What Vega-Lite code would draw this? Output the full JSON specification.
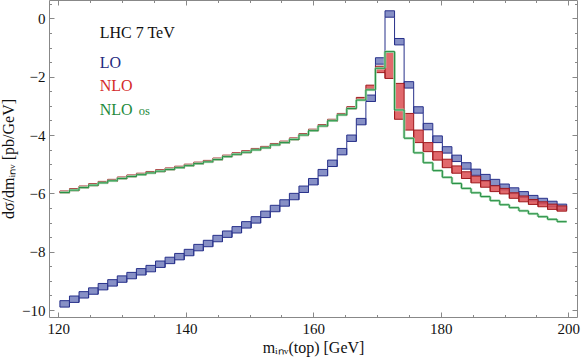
{
"$schema": "https://vega.github.io/schema/vega-lite/v6.json",
"width": 528, "height": 317,
"autosize": "none",
"padding": {"left": 49, "top": 0, "right": 4, "bottom": 42},
"background": "white",
"config": {
 "view": {"stroke": "#888888", "strokeWidth": 1},
 "font": "Liberation Serif",
 "axis": {"domain": false, "grid": false, "tickColor": "#888888", "labelFont": "Liberation Serif", "labelFontSize": 15, "labelColor": "#111111", "titleFont": "Liberation Serif", "titleFontSize": 16, "titleFontWeight": "normal", "titleColor": "#111111", "labelFlush": false}
},
"datasets": {
 "lo": [
  {"m0":120.25,"m1":121.75,"lo":-9.90,"hi":-9.68},
  {"m0":121.75,"m1":123.25,"lo":-9.74,"hi":-9.52},
  {"m0":123.25,"m1":124.75,"lo":-9.59,"hi":-9.37},
  {"m0":124.75,"m1":126.25,"lo":-9.46,"hi":-9.24},
  {"m0":126.25,"m1":127.75,"lo":-9.31,"hi":-9.09},
  {"m0":127.75,"m1":129.25,"lo":-9.18,"hi":-8.96},
  {"m0":129.25,"m1":130.75,"lo":-9.05,"hi":-8.83},
  {"m0":130.75,"m1":132.25,"lo":-8.93,"hi":-8.71},
  {"m0":132.25,"m1":133.75,"lo":-8.80,"hi":-8.58},
  {"m0":133.75,"m1":135.25,"lo":-8.69,"hi":-8.47},
  {"m0":135.25,"m1":136.75,"lo":-8.54,"hi":-8.32},
  {"m0":136.75,"m1":138.25,"lo":-8.41,"hi":-8.19},
  {"m0":138.25,"m1":139.75,"lo":-8.28,"hi":-8.06},
  {"m0":139.75,"m1":141.25,"lo":-8.14,"hi":-7.92},
  {"m0":141.25,"m1":142.75,"lo":-7.97,"hi":-7.75},
  {"m0":142.75,"m1":144.25,"lo":-7.83,"hi":-7.61},
  {"m0":144.25,"m1":145.75,"lo":-7.66,"hi":-7.44},
  {"m0":145.75,"m1":147.25,"lo":-7.51,"hi":-7.29},
  {"m0":147.25,"m1":148.75,"lo":-7.36,"hi":-7.14},
  {"m0":148.75,"m1":150.25,"lo":-7.19,"hi":-6.97},
  {"m0":150.25,"m1":151.75,"lo":-7.02,"hi":-6.80},
  {"m0":151.75,"m1":153.25,"lo":-6.83,"hi":-6.61},
  {"m0":153.25,"m1":154.75,"lo":-6.63,"hi":-6.41},
  {"m0":154.75,"m1":156.25,"lo":-6.44,"hi":-6.22},
  {"m0":156.25,"m1":157.75,"lo":-6.22,"hi":-6.00},
  {"m0":157.75,"m1":159.25,"lo":-5.97,"hi":-5.75},
  {"m0":159.25,"m1":160.75,"lo":-5.71,"hi":-5.49},
  {"m0":160.75,"m1":162.25,"lo":-5.40,"hi":-5.18},
  {"m0":162.25,"m1":163.75,"lo":-5.08,"hi":-4.86},
  {"m0":163.75,"m1":165.25,"lo":-4.68,"hi":-4.46},
  {"m0":165.25,"m1":166.75,"lo":-4.22,"hi":-4.00},
  {"m0":166.75,"m1":168.25,"lo":-3.65,"hi":-3.43},
  {"m0":168.25,"m1":169.75,"lo":-2.85,"hi":-2.63},
  {"m0":169.75,"m1":171.25,"lo":-1.57,"hi":-1.35},
  {"m0":171.25,"m1":172.75,"lo":0.04,"hi":0.26},
  {"m0":172.75,"m1":174.25,"lo":-0.91,"hi":-0.69},
  {"m0":174.25,"m1":175.75,"lo":-2.39,"hi":-2.17},
  {"m0":175.75,"m1":177.25,"lo":-3.25,"hi":-3.03},
  {"m0":177.25,"m1":178.75,"lo":-3.82,"hi":-3.60},
  {"m0":178.75,"m1":180.25,"lo":-4.26,"hi":-4.03},
  {"m0":180.25,"m1":181.75,"lo":-4.62,"hi":-4.40},
  {"m0":181.75,"m1":183.25,"lo":-4.91,"hi":-4.69},
  {"m0":183.25,"m1":184.75,"lo":-5.17,"hi":-4.95},
  {"m0":184.75,"m1":186.25,"lo":-5.38,"hi":-5.17},
  {"m0":186.25,"m1":187.75,"lo":-5.56,"hi":-5.35},
  {"m0":187.75,"m1":189.25,"lo":-5.73,"hi":-5.52},
  {"m0":189.25,"m1":190.75,"lo":-5.88,"hi":-5.68},
  {"m0":190.75,"m1":192.25,"lo":-6.01,"hi":-5.81},
  {"m0":192.25,"m1":193.75,"lo":-6.14,"hi":-5.94},
  {"m0":193.75,"m1":195.25,"lo":-6.26,"hi":-6.07},
  {"m0":195.25,"m1":196.75,"lo":-6.36,"hi":-6.17},
  {"m0":196.75,"m1":198.25,"lo":-6.46,"hi":-6.27},
  {"m0":198.25,"m1":199.75,"lo":-6.56,"hi":-6.37}
 ],
 "nlo": [
  {"m0":120.25,"m1":121.75,"lo":-5.99,"hi":-5.92},
  {"m0":121.75,"m1":123.25,"lo":-5.91,"hi":-5.84},
  {"m0":123.25,"m1":124.75,"lo":-5.82,"hi":-5.75},
  {"m0":124.75,"m1":126.25,"lo":-5.74,"hi":-5.67},
  {"m0":126.25,"m1":127.75,"lo":-5.66,"hi":-5.59},
  {"m0":127.75,"m1":129.25,"lo":-5.59,"hi":-5.52},
  {"m0":129.25,"m1":130.75,"lo":-5.51,"hi":-5.44},
  {"m0":130.75,"m1":132.25,"lo":-5.44,"hi":-5.37},
  {"m0":132.25,"m1":133.75,"lo":-5.38,"hi":-5.31},
  {"m0":133.75,"m1":135.25,"lo":-5.32,"hi":-5.25},
  {"m0":135.25,"m1":136.75,"lo":-5.26,"hi":-5.19},
  {"m0":136.75,"m1":138.25,"lo":-5.20,"hi":-5.13},
  {"m0":138.25,"m1":139.75,"lo":-5.14,"hi":-5.07},
  {"m0":139.75,"m1":141.25,"lo":-5.07,"hi":-5.00},
  {"m0":141.25,"m1":142.75,"lo":-5.00,"hi":-4.93},
  {"m0":142.75,"m1":144.25,"lo":-4.94,"hi":-4.87},
  {"m0":144.25,"m1":145.75,"lo":-4.86,"hi":-4.79},
  {"m0":145.75,"m1":147.25,"lo":-4.76,"hi":-4.69},
  {"m0":147.25,"m1":148.75,"lo":-4.68,"hi":-4.61},
  {"m0":148.75,"m1":150.25,"lo":-4.61,"hi":-4.54},
  {"m0":150.25,"m1":151.75,"lo":-4.53,"hi":-4.46},
  {"m0":151.75,"m1":153.25,"lo":-4.46,"hi":-4.39},
  {"m0":153.25,"m1":154.75,"lo":-4.36,"hi":-4.29},
  {"m0":154.75,"m1":156.25,"lo":-4.28,"hi":-4.21},
  {"m0":156.25,"m1":157.75,"lo":-4.17,"hi":-4.10},
  {"m0":157.75,"m1":159.25,"lo":-4.02,"hi":-3.95},
  {"m0":159.25,"m1":160.75,"lo":-3.87,"hi":-3.80},
  {"m0":160.75,"m1":162.25,"lo":-3.71,"hi":-3.64},
  {"m0":162.25,"m1":163.75,"lo":-3.53,"hi":-3.46},
  {"m0":163.75,"m1":165.25,"lo":-3.33,"hi":-3.26},
  {"m0":165.25,"m1":166.75,"lo":-3.11,"hi":-3.03},
  {"m0":166.75,"m1":168.25,"lo":-2.79,"hi":-2.71},
  {"m0":168.25,"m1":169.75,"lo":-2.42,"hi":-2.29},
  {"m0":169.75,"m1":171.25,"lo":-1.86,"hi":-1.64},
  {"m0":171.25,"m1":172.75,"lo":-2.06,"hi":-1.14},
  {"m0":172.75,"m1":174.25,"lo":-3.46,"hi":-2.23},
  {"m0":174.25,"m1":175.75,"lo":-3.83,"hi":-3.26},
  {"m0":175.75,"m1":177.25,"lo":-4.26,"hi":-3.83},
  {"m0":177.25,"m1":178.75,"lo":-4.57,"hi":-4.26},
  {"m0":178.75,"m1":180.25,"lo":-4.86,"hi":-4.57},
  {"m0":180.25,"m1":181.75,"lo":-5.12,"hi":-4.83},
  {"m0":181.75,"m1":183.25,"lo":-5.31,"hi":-5.06},
  {"m0":183.25,"m1":184.75,"lo":-5.49,"hi":-5.26},
  {"m0":184.75,"m1":186.25,"lo":-5.64,"hi":-5.41},
  {"m0":186.25,"m1":187.75,"lo":-5.79,"hi":-5.57},
  {"m0":187.75,"m1":189.25,"lo":-5.94,"hi":-5.74},
  {"m0":189.25,"m1":190.75,"lo":-6.02,"hi":-5.83},
  {"m0":190.75,"m1":192.25,"lo":-6.17,"hi":-5.98},
  {"m0":192.25,"m1":193.75,"lo":-6.29,"hi":-6.09},
  {"m0":193.75,"m1":195.25,"lo":-6.38,"hi":-6.21},
  {"m0":195.25,"m1":196.75,"lo":-6.46,"hi":-6.29},
  {"m0":196.75,"m1":198.25,"lo":-6.55,"hi":-6.37},
  {"m0":198.25,"m1":199.75,"lo":-6.61,"hi":-6.43}
 ],
 "os": [
  {"m0":120.25,"m1":121.75,"lo":-5.97},
  {"m0":121.75,"m1":123.25,"lo":-5.89},
  {"m0":123.25,"m1":124.75,"lo":-5.80},
  {"m0":124.75,"m1":126.25,"lo":-5.72},
  {"m0":126.25,"m1":127.75,"lo":-5.64},
  {"m0":127.75,"m1":129.25,"lo":-5.57},
  {"m0":129.25,"m1":130.75,"lo":-5.49},
  {"m0":130.75,"m1":132.25,"lo":-5.42},
  {"m0":132.25,"m1":133.75,"lo":-5.36},
  {"m0":133.75,"m1":135.25,"lo":-5.30},
  {"m0":135.25,"m1":136.75,"lo":-5.24},
  {"m0":136.75,"m1":138.25,"lo":-5.18},
  {"m0":138.25,"m1":139.75,"lo":-5.12},
  {"m0":139.75,"m1":141.25,"lo":-5.05},
  {"m0":141.25,"m1":142.75,"lo":-4.98},
  {"m0":142.75,"m1":144.25,"lo":-4.92},
  {"m0":144.25,"m1":145.75,"lo":-4.84},
  {"m0":145.75,"m1":147.25,"lo":-4.74},
  {"m0":147.25,"m1":148.75,"lo":-4.66},
  {"m0":148.75,"m1":150.25,"lo":-4.59},
  {"m0":150.25,"m1":151.75,"lo":-4.51},
  {"m0":151.75,"m1":153.25,"lo":-4.44},
  {"m0":153.25,"m1":154.75,"lo":-4.34},
  {"m0":154.75,"m1":156.25,"lo":-4.26},
  {"m0":156.25,"m1":157.75,"lo":-4.15},
  {"m0":157.75,"m1":159.25,"lo":-4.00},
  {"m0":159.25,"m1":160.75,"lo":-3.85},
  {"m0":160.75,"m1":162.25,"lo":-3.69},
  {"m0":162.25,"m1":163.75,"lo":-3.51},
  {"m0":163.75,"m1":165.25,"lo":-3.31},
  {"m0":165.25,"m1":166.75,"lo":-3.09},
  {"m0":166.75,"m1":168.25,"lo":-2.80},
  {"m0":168.25,"m1":169.75,"lo":-2.45},
  {"m0":169.75,"m1":171.25,"lo":-1.71},
  {"m0":171.25,"m1":172.75,"lo":-1.14},
  {"m0":172.75,"m1":174.25,"lo":-3.14},
  {"m0":174.25,"m1":175.75,"lo":-4.11},
  {"m0":175.75,"m1":177.25,"lo":-4.61},
  {"m0":177.25,"m1":178.75,"lo":-4.95},
  {"m0":178.75,"m1":180.25,"lo":-5.22},
  {"m0":180.25,"m1":181.75,"lo":-5.45},
  {"m0":181.75,"m1":183.25,"lo":-5.66},
  {"m0":183.25,"m1":184.75,"lo":-5.83},
  {"m0":184.75,"m1":186.25,"lo":-5.98},
  {"m0":186.25,"m1":187.75,"lo":-6.11},
  {"m0":187.75,"m1":189.25,"lo":-6.25},
  {"m0":189.25,"m1":190.75,"lo":-6.39},
  {"m0":190.75,"m1":192.25,"lo":-6.49},
  {"m0":192.25,"m1":193.75,"lo":-6.60},
  {"m0":193.75,"m1":195.25,"lo":-6.70},
  {"m0":195.25,"m1":196.75,"lo":-6.80},
  {"m0":196.75,"m1":198.25,"lo":-6.89},
  {"m0":198.25,"m1":199.75,"lo":-6.97}
 ]
},
"resolve": {"axis": {"x": "independent", "y": "independent"}},
"layer": [
 {
  "data": {"name": "lo"},
  "mark": {"type": "rect", "fill": "#727cbc", "fillOpacity": 0.85, "stroke": "#27308a", "strokeWidth": 1},
  "encoding": {
   "x": {"field": "m0", "type": "quantitative", "scale": {"domain": [118.54, 201.37], "nice": false, "zero": false},
         "axis": {"orient": "bottom", "values": [120, 140, 160, 180, 200], "tickSize": -5, "labelPadding": 9, "title": "mᵢₙᵥ(top) [GeV]", "titlePadding": 3}},
   "x2": {"field": "m1"},
   "y": {"field": "lo", "type": "quantitative", "scale": {"domain": [-10.24, 0.63], "nice": false, "zero": false},
         "axis": {"orient": "left", "values": [-10, -8, -6, -4, -2, 0], "tickSize": -5, "labelPadding": 9, "title": "dσ/dmᵢₙᵥ  [pb/GeV]", "titlePadding": 5}},
   "y2": {"field": "hi"}
  }
 },
 {
  "data": {"name": "lo"},
  "transform": [
   {"window": [{"op": "lead", "field": "lo", "as": "nlo"}], "sort": [{"field": "m0", "order": "ascending"}]},
   {"filter": "isValid(datum.nlo)"}
  ],
  "mark": {"type": "rule", "stroke": "#27308a", "strokeWidth": 1},
  "encoding": {
   "x": {"field": "m1", "type": "quantitative", "scale": {"domain": [118.54, 201.37], "nice": false, "zero": false},
         "axis": {"orient": "bottom", "values": [120,125,130,135,140,145,150,155,160,165,170,175,180,185,190,195,200], "tickSize": -2.5, "labels": false, "title": null}},
   "y": {"field": "lo", "type": "quantitative", "scale": {"domain": [-10.24, 0.63], "nice": false, "zero": false},
         "axis": {"orient": "left", "values": [-10,-9.5,-9,-8.5,-8,-7.5,-7,-6.5,-6,-5.5,-5,-4.5,-4,-3.5,-3,-2.5,-2,-1.5,-1,-0.5,0,0.5], "tickSize": -2.5, "labels": false, "title": null}},
   "y2": {"field": "nlo"}
  }
 },
 {
  "data": {"name": "nlo"},
  "mark": {"type": "rect", "fill": "#dc4f52", "fillOpacity": 0.85, "stroke": "#9e1a1e", "strokeWidth": 1},
  "encoding": {
   "x": {"field": "m0", "type": "quantitative", "scale": {"domain": [118.54, 201.37], "nice": false, "zero": false},
         "axis": {"orient": "top", "values": [120, 140, 160, 180, 200], "tickSize": -5, "labels": false, "title": null}},
   "x2": {"field": "m1"},
   "y": {"field": "lo", "type": "quantitative", "scale": {"domain": [-10.24, 0.63], "nice": false, "zero": false},
         "axis": {"orient": "right", "values": [-10, -8, -6, -4, -2, 0], "tickSize": -5, "labels": false, "title": null}},
   "y2": {"field": "hi"}
  }
 },
 {
  "data": {"name": "nlo"},
  "transform": [
   {"window": [{"op": "lead", "field": "lo", "as": "nlo"}], "sort": [{"field": "m0", "order": "ascending"}]},
   {"filter": "isValid(datum.nlo)"}
  ],
  "mark": {"type": "rule", "stroke": "#9e1a1e", "strokeWidth": 1},
  "encoding": {
   "x": {"field": "m1", "type": "quantitative", "scale": {"domain": [118.54, 201.37], "nice": false, "zero": false},
         "axis": {"orient": "top", "values": [120,125,130,135,140,145,150,155,160,165,170,175,180,185,190,195,200], "tickSize": -2.5, "labels": false, "title": null}},
   "y": {"field": "lo", "type": "quantitative", "scale": {"domain": [-10.24, 0.63], "nice": false, "zero": false},
         "axis": {"orient": "right", "values": [-10,-9.5,-9,-8.5,-8,-7.5,-7,-6.5,-6,-5.5,-5,-4.5,-4,-3.5,-3,-2.5,-2,-1.5,-1,-0.5,0,0.5], "tickSize": -2.5, "labels": false, "title": null}},
   "y2": {"field": "nlo"}
  }
 },
 {
  "data": {"name": "os"},
  "mark": {"type": "rule", "stroke": "#a9dbb3", "strokeWidth": 2.6},
  "encoding": {
   "x": {"field": "m0", "type": "quantitative", "scale": {"domain": [118.54, 201.37], "nice": false, "zero": false}, "axis": null},
   "x2": {"field": "m1"},
   "y": {"field": "lo", "type": "quantitative", "scale": {"domain": [-10.24, 0.63], "nice": false, "zero": false}, "axis": null}
  }
 },
 {
  "data": {"name": "os"},
  "transform": [
   {"window": [{"op": "lead", "field": "lo", "as": "nlo"}], "sort": [{"field": "m0", "order": "ascending"}]},
   {"filter": "isValid(datum.nlo)"}
  ],
  "mark": {"type": "rule", "stroke": "#a9dbb3", "strokeWidth": 2.6},
  "encoding": {
   "x": {"field": "m1", "type": "quantitative", "scale": {"domain": [118.54, 201.37], "nice": false, "zero": false}, "axis": null},
   "y": {"field": "lo", "type": "quantitative", "scale": {"domain": [-10.24, 0.63], "nice": false, "zero": false}, "axis": null},
   "y2": {"field": "nlo"}
  }
 },
 {
  "data": {"name": "os"},
  "mark": {"type": "rule", "stroke": "#2a9147", "strokeWidth": 1.1},
  "encoding": {
   "x": {"field": "m0", "type": "quantitative", "scale": {"domain": [118.54, 201.37], "nice": false, "zero": false}, "axis": null},
   "x2": {"field": "m1"},
   "y": {"field": "lo", "type": "quantitative", "scale": {"domain": [-10.24, 0.63], "nice": false, "zero": false}, "axis": null}
  }
 },
 {
  "data": {"name": "os"},
  "transform": [
   {"window": [{"op": "lead", "field": "lo", "as": "nlo"}], "sort": [{"field": "m0", "order": "ascending"}]},
   {"filter": "isValid(datum.nlo)"}
  ],
  "mark": {"type": "rule", "stroke": "#2a9147", "strokeWidth": 1.1},
  "encoding": {
   "x": {"field": "m1", "type": "quantitative", "scale": {"domain": [118.54, 201.37], "nice": false, "zero": false}, "axis": null},
   "y": {"field": "lo", "type": "quantitative", "scale": {"domain": [-10.24, 0.63], "nice": false, "zero": false}, "axis": null},
   "y2": {"field": "nlo"}
  }
 },
 {
  "data": {"values": [{}]},
  "mark": {"type": "text", "align": "left", "baseline": "middle", "font": "Liberation Serif", "fontSize": 16, "fill": "#111111"},
  "encoding": {
   "x": {"datum": 126.5, "type": "quantitative", "scale": {"domain": [118.54, 201.37], "nice": false, "zero": false}, "axis": null},
   "y": {"datum": -0.5, "type": "quantitative", "scale": {"domain": [-10.24, 0.63], "nice": false, "zero": false}, "axis": null},
   "text": {"value": "LHC 7 TeV"}
  }
 },
 {
  "data": {"values": [{}]},
  "mark": {"type": "text", "align": "left", "baseline": "middle", "font": "Liberation Serif", "fontSize": 16, "fill": "#1f2a80"},
  "encoding": {
   "x": {"datum": 126.5, "type": "quantitative", "scale": {"domain": [118.54, 201.37], "nice": false, "zero": false}, "axis": null},
   "y": {"datum": -1.53, "type": "quantitative", "scale": {"domain": [-10.24, 0.63], "nice": false, "zero": false}, "axis": null},
   "text": {"value": "LO"}
  }
 },
 {
  "data": {"values": [{}]},
  "mark": {"type": "text", "align": "left", "baseline": "middle", "font": "Liberation Serif", "fontSize": 16, "fill": "#d42a2a"},
  "encoding": {
   "x": {"datum": 126.5, "type": "quantitative", "scale": {"domain": [118.54, 201.37], "nice": false, "zero": false}, "axis": null},
   "y": {"datum": -2.32, "type": "quantitative", "scale": {"domain": [-10.24, 0.63], "nice": false, "zero": false}, "axis": null},
   "text": {"value": "NLO"}
  }
 },
 {
  "data": {"values": [{}]},
  "mark": {"type": "text", "align": "left", "baseline": "alphabetic", "font": "Liberation Serif", "fontSize": 16, "fill": "#1e8a3c"},
  "encoding": {
   "x": {"datum": 126.5, "type": "quantitative", "scale": {"domain": [118.54, 201.37], "nice": false, "zero": false}, "axis": null},
   "y": {"datum": -3.3, "type": "quantitative", "scale": {"domain": [-10.24, 0.63], "nice": false, "zero": false}, "axis": null},
   "text": {"value": "NLO"}
  }
 },
 {
  "data": {"values": [{}]},
  "mark": {"type": "text", "align": "left", "baseline": "alphabetic", "font": "Liberation Serif", "fontSize": 12.5, "fill": "#1e8a3c"},
  "encoding": {
   "x": {"datum": 132.6, "type": "quantitative", "scale": {"domain": [118.54, 201.37], "nice": false, "zero": false}, "axis": null},
   "y": {"datum": -3.3, "type": "quantitative", "scale": {"domain": [-10.24, 0.63], "nice": false, "zero": false}, "axis": null},
   "text": {"value": "os"}
  }
 }
]
}
